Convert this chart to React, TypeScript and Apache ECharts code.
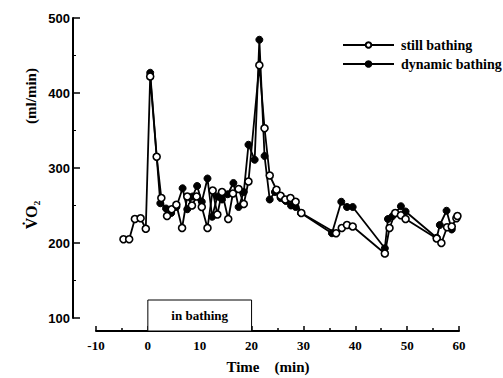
import React, { useEffect, useRef } from "react";
import * as echarts from "echarts";

const seriesNames = ["still bathing", "dynamic bathing"];

const stillTime = [-4.7, -3.6, -2.5, -1.4, -0.4, 0.45, 1.7, 2.6, 3.7, 4.6, 5.5, 6.6, 7.6, 8.5, 9.4, 10.4, 11.5, 12.5, 13.4, 14.3, 15.5, 16.4, 17.5, 18.5, 19.4, 21.5, 22.5, 23.5, 24.8, 25.6, 26.5, 27.5, 28.5, 29.6, 36.3, 37.4, 38.4, 39.5, 45.7, 46.6, 47.7, 48.8, 49.7, 55.7, 56.6, 57.7, 58.6, 59.5, 59.7];
const stillVO2 = [205, 205, 232, 233, 219, 422, 315, 260, 236, 245, 251, 220, 262, 250, 262, 248, 220, 270, 238, 268, 232, 266, 272, 252, 282, 437, 353, 290, 271, 263, 258, 260, 255, 240, 213, 220, 224, 222, 186, 220, 240, 237, 232, 206, 200, 221, 222, 233, 236];

const dynTime = [0.45, 2.4, 3.5, 4.5, 5.5, 6.7, 7.6, 8.6, 9.5, 10.4, 11.5, 12.4, 13.4, 14.3, 15.4, 16.5, 17.5, 18.5, 19.4, 20.6, 21.5, 22.5, 23.5, 24.5, 25.6, 26.6, 27.6, 28.5, 29.5, 35.5, 37.3, 38.4, 39.5, 45.7, 46.3, 47.2, 48.8, 49.7, 55.7, 56.3, 57.6, 58.6];
const dynVO2 = [427, 253, 246, 240, 248, 273, 245, 262, 276, 255, 286, 235, 262, 258, 265, 280, 248, 268, 331, 311, 471, 316, 258, 268, 260, 256, 250, 248, 240, 213, 255, 248, 248, 193, 232, 236, 249, 242, 207, 224, 243, 218];

const xTicks = { min: -10, max: 60, interval: 10 };
const yTicks = { min: 100, max: 500, interval: 100 };
const bathingPeriod = [0, 20];

const serif = "Liberation Serif";
const sans = "Liberation Sans";

export default function App() {
  const ref = useRef<HTMLDivElement>(null);
  useEffect(() => {
    document.body.style.margin = "0";
    if (!ref.current) return;
    const chart = echarts.init(ref.current, null, { renderer: "svg" });
    const stillData = stillTime.map((t, i) => [t, stillVO2[i]]);
    const dynData = dynTime.map((t, i) => [t, dynVO2[i]]);
    const option: any = {
      animation: false,
      backgroundColor: "#ffffff",
      grid: { left: 96, right: 44, top: 18, bottom: 60 },
      legend: {
        data: seriesNames,
        orient: "vertical",
        left: 337,
        top: 33,
        itemWidth: 51,
        itemHeight: 7,
        itemGap: 5,
        textStyle: { fontFamily: serif, fontWeight: "bold", fontSize: 14, color: "#000", padding: [0, 0, 0, 2] },
      },
      xAxis: {
        type: "value",
        min: xTicks.min,
        max: xTicks.max,
        interval: xTicks.interval,
        offset: 13,
        axisLine: { show: true, onZero: false, lineStyle: { color: "#000", width: 2 } },
        axisTick: { show: true, inside: true, length: 5, lineStyle: { color: "#000", width: 1.5 } },
        minorTick: { show: true, splitNumber: 2, length: 3, lineStyle: { color: "#000", width: 1.5 } },
        splitLine: { show: false },
        axisLabel: { fontFamily: serif, fontWeight: "bold", fontSize: 13, color: "#000", margin: 8 },
      },
      yAxis: {
        type: "value",
        min: yTicks.min,
        max: yTicks.max,
        interval: yTicks.interval,
        offset: 23,
        axisLine: { show: true, onZero: false, lineStyle: { color: "#000", width: 2 } },
        axisTick: { show: true, inside: true, length: 7, lineStyle: { color: "#000", width: 1.5 } },
        minorTick: { show: true, splitNumber: 2, length: 3, lineStyle: { color: "#000", width: 1 } },
        splitLine: { show: false },
        axisLabel: { fontFamily: sans, fontWeight: "bold", fontSize: 13, color: "#000", margin: 3 },
      },
      series: [
        {
          name: seriesNames[0],
          type: "line",
          data: stillData,
          symbol: "circle",
          symbolSize: 7,
          z: 3,
          lineStyle: { color: "#000", width: 1.8 },
          itemStyle: { color: "#fff", borderColor: "#000", borderWidth: 1.6 },
        },
        {
          name: seriesNames[1],
          type: "line",
          data: dynData,
          symbol: "circle",
          symbolSize: 7,
          z: 2,
          lineStyle: { color: "#000", width: 1.8 },
          itemStyle: { color: "#000", borderColor: "#000", borderWidth: 1 },
        },
      ],
    };
    chart.setOption(option);
    const x0 = chart.convertToPixel({ xAxisIndex: 0 }, bathingPeriod[0]) as number;
    const x1 = chart.convertToPixel({ xAxisIndex: 0 }, bathingPeriod[1]) as number;
    chart.setOption({
      graphic: [
        {
          type: "rect",
          shape: { x: x0, y: 300, width: x1 - x0, height: 31 },
          style: { fill: "#fff", stroke: "#000", lineWidth: 1 },
          z: 10,
        },
        {
          type: "text",
          x: (x0 + x1) / 2,
          y: 315,
          z: 11,
          style: { text: "in bathing", fontFamily: serif, fontWeight: "bold", fontSize: 13, fill: "#000", align: "center", verticalAlign: "middle" },
        },
        {
          type: "text",
          x: 268,
          y: 367,
          style: { text: "Time    (min)", fontFamily: serif, fontWeight: "bold", fontSize: 15, fill: "#000", align: "center", verticalAlign: "middle" },
        },
        {
          type: "text",
          x: 31,
          y: 96,
          rotation: Math.PI / 2,
          style: { text: "(ml/min)", fontFamily: serif, fontWeight: "bold", fontSize: 15, fill: "#000", align: "center", verticalAlign: "middle" },
        },
        {
          type: "text",
          x: 31,
          y: 215,
          rotation: Math.PI / 2,
          style: { text: "V\u0307O\u2082", fontFamily: serif, fontWeight: "bold", fontSize: 16, fill: "#000", align: "center", verticalAlign: "middle" },
        },
      ],
    });
    return () => chart.dispose();
  }, []);
  return <div ref={ref} style={{ width: 503, height: 378 }} />;
}
